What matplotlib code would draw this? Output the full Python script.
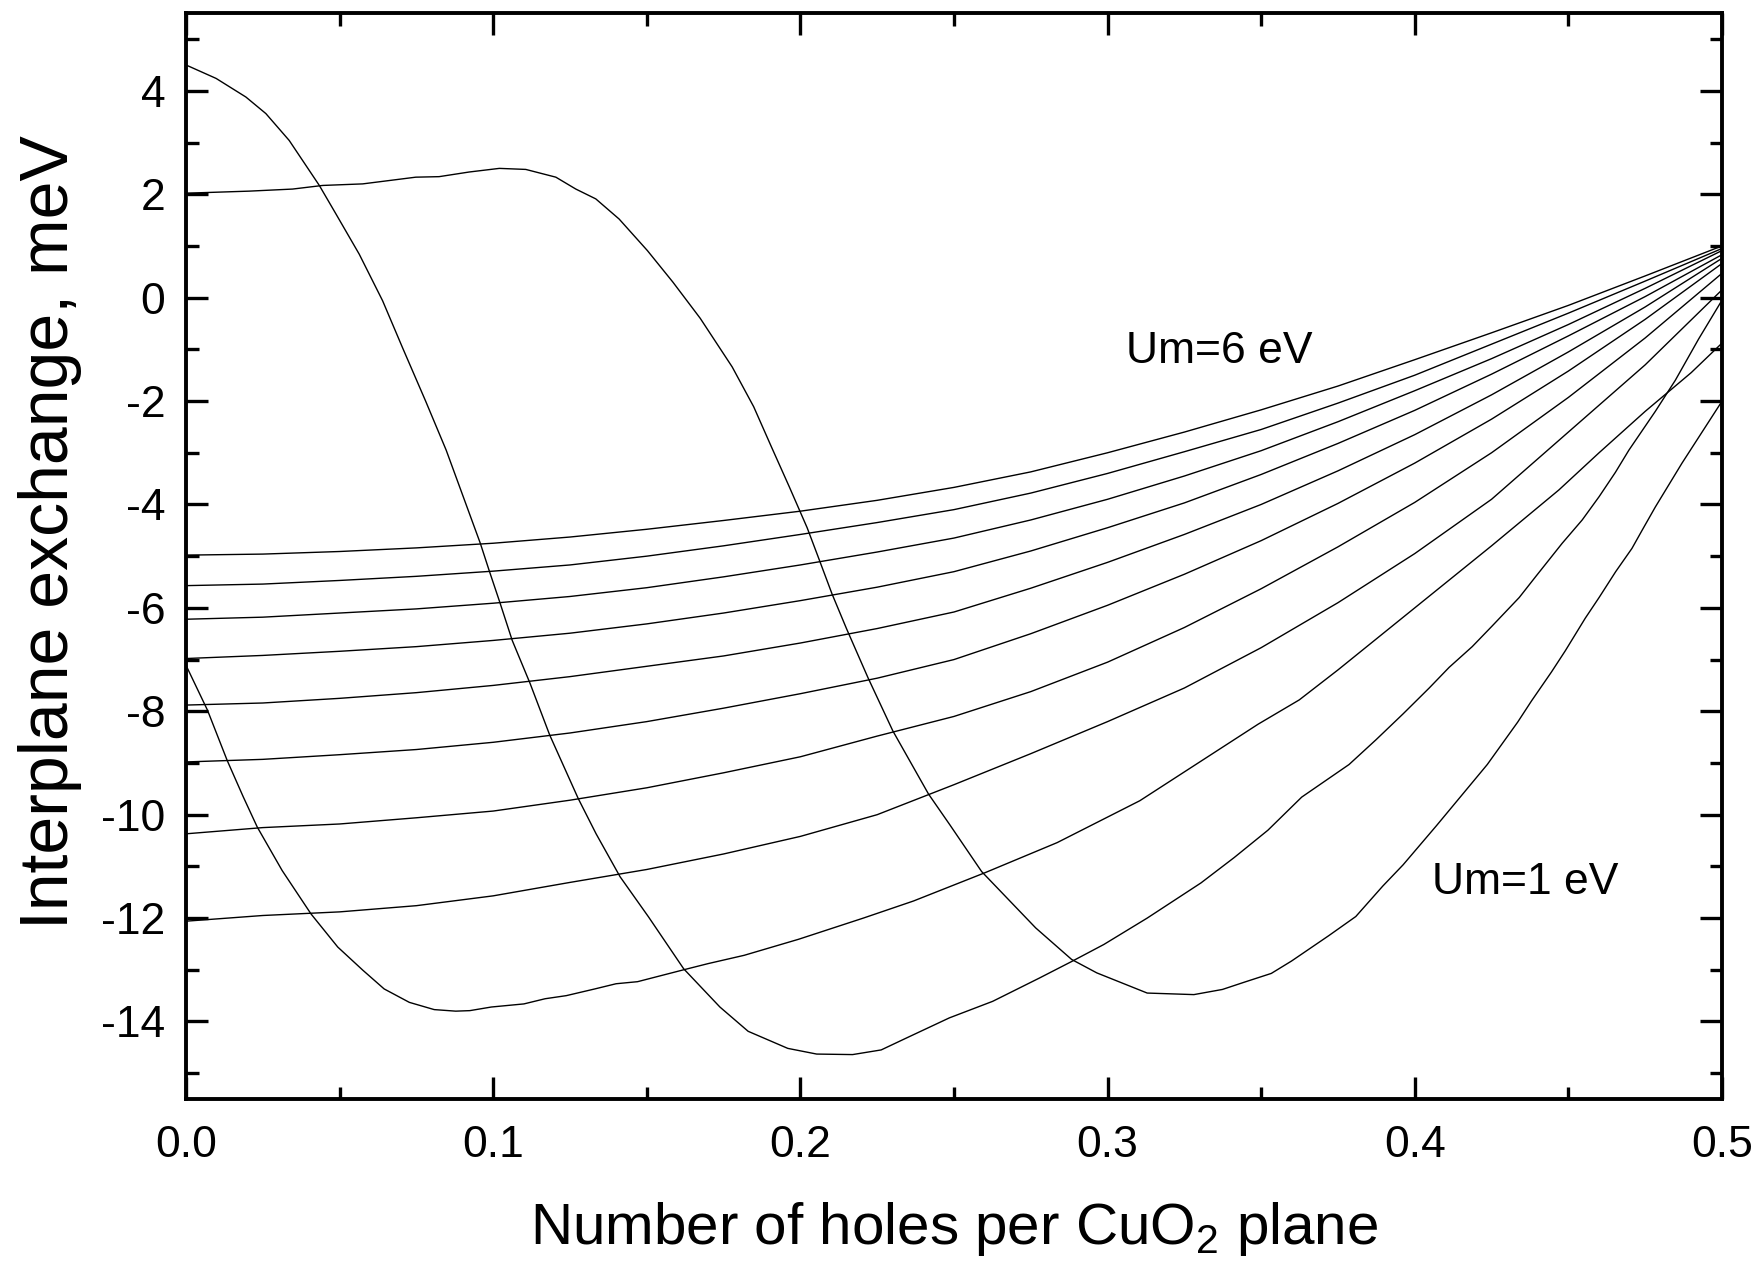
import matplotlib
matplotlib.use('Agg')
import matplotlib.pyplot as plt
from matplotlib.ticker import MultipleLocator, FormatStrFormatter

plt.rcParams['font.family'] = ['Liberation Sans', 'DejaVu Sans']
plt.rcParams['mathtext.default'] = 'regular'
plt.rcParams['axes.unicode_minus'] = False

# common x grid for the smooth (large Um) curves
x_grid = [0.0, 0.025, 0.05, 0.075, 0.1, 0.125, 0.15, 0.175, 0.2, 0.225, 0.25,
          0.275, 0.3, 0.325, 0.35, 0.375, 0.4, 0.425, 0.45, 0.475, 0.5]

um60 = [-4.98, -4.96, -4.91, -4.84, -4.75, -4.63, -4.48, -4.31, -4.13, -3.92, -3.67,
        -3.37, -3.00, -2.60, -2.17, -1.71, -1.20, -0.68, -0.15, 0.42, 1.00]
um55 = [-5.57, -5.54, -5.47, -5.39, -5.29, -5.17, -5.00, -4.80, -4.58, -4.35, -4.10,
        -3.78, -3.40, -2.98, -2.55, -2.04, -1.50, -0.90, -0.30, 0.32, 0.95]
um50 = [-6.22, -6.18, -6.10, -6.02, -5.91, -5.78, -5.61, -5.40, -5.17, -4.92, -4.65,
        -4.30, -3.90, -3.45, -2.96, -2.40, -1.80, -1.18, -0.52, 0.18, 0.91]
um45 = [-6.98, -6.92, -6.84, -6.75, -6.63, -6.49, -6.31, -6.10, -5.86, -5.60, -5.30,
        -4.90, -4.45, -3.97, -3.42, -2.82, -2.18, -1.48, -0.74, 0.02, 0.83]
um40 = [-7.88, -7.84, -7.75, -7.64, -7.50, -7.33, -7.13, -6.93, -6.68, -6.40, -6.08,
        -5.62, -5.12, -4.58, -4.00, -3.35, -2.65, -1.88, -1.05, -0.18, 0.76]
um35 = [-8.98, -8.93, -8.84, -8.74, -8.60, -8.42, -8.20, -7.94, -7.66, -7.36, -7.00,
        -6.50, -5.95, -5.35, -4.70, -3.98, -3.20, -2.35, -1.42, -0.42, 0.66]
um30 = [-10.37, -10.25, -10.18, -10.06, -9.93, -9.72, -9.48, -9.19, -8.88, -8.48, -8.10,
        -7.62, -7.05, -6.38, -5.63, -4.82, -3.96, -3.00, -1.93, -0.78, 0.47]
um25 = [-12.06, -11.95, -11.88, -11.76, -11.57, -11.31, -11.06, -10.76, -10.42, -10.00, -9.42,
        -8.82, -8.20, -7.55, -6.77, -5.90, -4.95, -3.90, -2.60, -1.30, 0.15]

# Um = 2 eV
x_um20 = [0.0, 0.007, 0.0134, 0.0186, 0.0232, 0.0313, 0.0407, 0.0494, 0.0576, 0.0645,
          0.0727, 0.0808, 0.0878, 0.0924, 0.0994, 0.110, 0.1169, 0.1238, 0.1331, 0.140,
          0.147, 0.162, 0.170, 0.1817, 0.1994, 0.2205, 0.2368, 0.2602, 0.2836, 0.3105,
          0.349, 0.3624, 0.375, 0.4, 0.425, 0.4469, 0.46, 0.475, 0.49, 0.5]
y_um20 = [-7.11, -7.98, -8.95, -9.65, -10.24, -11.08, -11.92, -12.56, -13.01, -13.37,
          -13.63, -13.77, -13.80, -13.79, -13.72, -13.66, -13.56, -13.50, -13.37, -13.27,
          -13.23, -13.00, -12.88, -12.72, -12.41, -12.00, -11.67, -11.12, -10.54, -9.73,
          -8.25, -7.78, -7.20, -6.00, -4.80, -3.72, -3.00, -2.20, -1.45, -0.88]

# Um = 1.5 eV
x_um15 = [0.0, 0.0098, 0.0195, 0.026, 0.0336, 0.0434, 0.0488, 0.0564, 0.064, 0.0705,
          0.078, 0.0847, 0.0958, 0.0987, 0.1022, 0.1062, 0.112, 0.1184, 0.1277, 0.1335,
          0.1413, 0.1506, 0.162, 0.1738, 0.183, 0.1959, 0.2053, 0.217, 0.2263, 0.2345,
          0.2485, 0.2626, 0.2778, 0.2883, 0.2988, 0.3129, 0.3304, 0.3412, 0.3522, 0.3632,
          0.3786, 0.3874, 0.3962, 0.4047, 0.4112, 0.4187, 0.4252, 0.434, 0.4393, 0.448,
          0.4545, 0.46, 0.4653, 0.4697, 0.4783, 0.4848, 0.4924, 0.4995]
y_um15 = [4.50, 4.24, 3.88, 3.56, 3.04, 2.17, 1.62, 0.84, -0.06, -0.97,
          -2.00, -2.95, -4.75, -5.28, -5.90, -6.63, -7.46, -8.46, -9.69, -10.37,
          -11.20, -11.98, -12.98, -13.72, -14.19, -14.52, -14.63, -14.64, -14.55, -14.32,
          -13.93, -13.61, -13.16, -12.84, -12.51, -12.00, -11.32, -10.83, -10.30, -9.66,
          -9.03, -8.55, -8.05, -7.55, -7.15, -6.75, -6.35, -5.80, -5.40, -4.75,
          -4.30, -3.85, -3.38, -2.95, -2.20, -1.60, -0.80, -0.10]

# Um = 1 eV
x_um10 = [0.0, 0.0206, 0.0347, 0.0445, 0.0575, 0.0748, 0.0824, 0.0922, 0.102, 0.1106,
          0.1204, 0.1269, 0.1334, 0.141, 0.1502, 0.1585, 0.1674, 0.1778, 0.1848, 0.1906,
          0.1964, 0.2022, 0.2057, 0.2103, 0.215, 0.222, 0.2301, 0.2417, 0.2487, 0.259,
          0.2766, 0.2883, 0.2965, 0.3129, 0.3281, 0.3374, 0.3445, 0.3533, 0.3599, 0.372,
          0.3808, 0.3896, 0.3962, 0.4071, 0.4236, 0.4335, 0.438, 0.4445, 0.449, 0.4555,
          0.46, 0.4654, 0.4707, 0.474, 0.4783, 0.487, 0.4995]
y_um10 = [2.02, 2.06, 2.10, 2.17, 2.20, 2.33, 2.34, 2.43, 2.50, 2.48,
          2.33, 2.10, 1.91, 1.52, 0.91, 0.30, -0.40, -1.34, -2.11, -2.89,
          -3.66, -4.45, -5.00, -5.73, -6.40, -7.35, -8.38, -9.60, -10.20, -11.10,
          -12.19, -12.80, -13.06, -13.45, -13.48, -13.38, -13.24, -13.07, -12.83, -12.34,
          -11.97, -11.38, -10.97, -10.21, -9.03, -8.21, -7.80, -7.24, -6.83, -6.20,
          -5.80, -5.30, -4.85, -4.50, -4.05, -3.20, -2.05]

grid_curves = [um60, um55, um50, um45, um40, um35, um30, um25]
other_curves = [(x_um20, y_um20), (x_um15, y_um15), (x_um10, y_um10)]

fig = plt.figure(figsize=(17.58, 12.64), dpi=100)
ax = fig.add_axes([0.1058, 0.1305, 0.8737, 0.859])

for ys in grid_curves:
    ax.plot(x_grid, ys, color='black', linewidth=1.0)
for xs, ys in other_curves:
    ax.plot(xs, ys, color='black', linewidth=1.0)

ax.text(0.306, -1.27, 'Um=6 eV', fontsize=32, ha='left', va='baseline')
ax.text(0.4055, -11.53, 'Um=1 eV', fontsize=32, ha='left', va='baseline')

ax.set_xlim(0, 0.5)
ax.set_ylim(-15.5, 5.5)
ax.xaxis.set_major_locator(MultipleLocator(0.1))
ax.xaxis.set_minor_locator(MultipleLocator(0.05))
ax.yaxis.set_major_locator(MultipleLocator(2))
ax.yaxis.set_minor_locator(MultipleLocator(1))
ax.xaxis.set_major_formatter(FormatStrFormatter('%.1f'))

for sp in ax.spines.values():
    sp.set_linewidth(2.8)
ax.tick_params(which='both', direction='in', top=True, right=True, width=2.4)
ax.tick_params(which='major', length=16, labelsize=32)
ax.tick_params(which='minor', length=9)
ax.tick_params(axis='x', which='major', pad=19)
ax.tick_params(axis='y', which='major', pad=15)

ax.set_xlabel('Number of holes per CuO$_2$ plane', fontsize=42)
ax.xaxis.set_label_coords(0.5, -0.093)
ax.set_ylabel('Interplane exchange, meV', fontsize=49)
ax.yaxis.set_label_coords(-0.068, 0.522)

fig.savefig('out.png', dpi=100)
